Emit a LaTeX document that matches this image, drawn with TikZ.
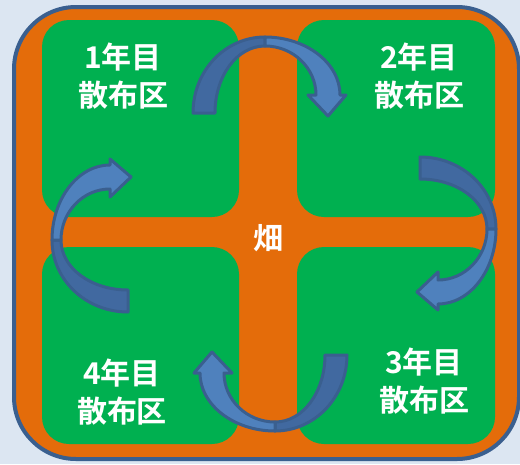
\documentclass[tikz,border=0pt]{standalone}
\usepackage{fontspec}
\setmainfont{Noto Sans CJK JP}[BoldFont={Noto Sans CJK JP Bold}]
\definecolor{bgblue}{HTML}{DCE6F2}
\definecolor{fieldorange}{HTML}{E46C0A}
\definecolor{plotgreen}{HTML}{00B050}
\definecolor{edgeblue}{HTML}{3A5F8F}
\definecolor{backblue}{HTML}{4169A0}
\definecolor{frontblue}{HTML}{4F81BD}
% one curved arrow: centre, rotation
\newcommand{\turnarrow}[2]{%
  \begin{scope}[shift={#1}, rotate=#2]
    \filldraw[arrowback] (-72,9) .. controls (-72,-33) and (-40,-67) .. (0,-67) -- (0,-58) .. controls (-28,-58) and (-50,-28) .. (-50,9) -- cycle;
    \filldraw[arrowfront] (0,-67) .. controls (41,-67) and (75,-41) .. (75,-9) -- (81,-9) -- (63,12) -- (43,-9) -- (51,-9) .. controls (51,-36) and (28,-58) .. (0,-58) -- cycle;
  \end{scope}}
\begin{document}
\begin{tikzpicture}[x=1pt, y=-1pt,
    plot/.style={fill=plotgreen, rounded corners=27pt},
    arrowback/.style={fill=backblue, draw=edgeblue, line width=3pt, line join=round},
    arrowfront/.style={fill=frontblue, draw=edgeblue, line width=3pt, line join=round},
    lbl/.style={text=white, font=\fontsize{30}{38}\selectfont\bfseries, align=center}]
  \useasboundingbox (0,0) rectangle (520,464);
  \fill[bgblue] (0,0) rectangle (520,464);
  \filldraw[fill=fieldorange, draw=edgeblue, line width=4pt, rounded corners=62pt] (14,7) rectangle (519,459);
  % four plots
  \fill[plot] (42,20) rectangle (239,217);
  \fill[plot] (297,20) rectangle (495,217);
  \fill[plot] (297,247) rectangle (495,444);
  \fill[plot] (42,247) rectangle (239,444);
  % rotation arrows
  \turnarrow{(265,104)}{0}
  \turnarrow{(429,229)}{-90}
  \turnarrow{(275,364)}{180}
  \turnarrow{(119,240)}{90}
  % labels
  \node[lbl] (plot1) at (123,76) {1年目\\散布区};
  \node[lbl] (plot2) at (419,76) {2年目\\散布区};
  \node[lbl] (plot3) at (424,381) {3年目\\散布区};
  \node[lbl] (plot4) at (122,392) {4年目\\散布区};
  \node[lbl] (field) at (268,238) {畑};
\end{tikzpicture}
\end{document}
